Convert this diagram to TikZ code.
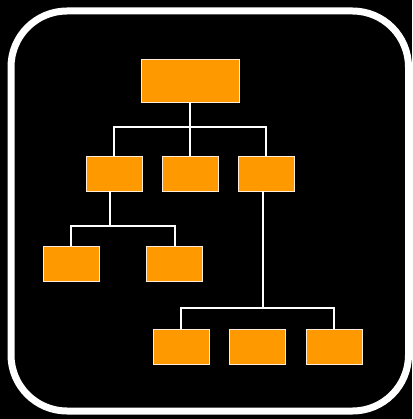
\documentclass[tikz,border=0pt]{standalone}
\usepackage{tikz}
\usetikzlibrary{positioning,calc}

\tikzset{
  box/.style={draw=white!85!orange, line width=0.8pt, fill=orgbox, inner sep=0pt,
              minimum width=56pt, minimum height=35pt},
  wire/.style={draw=white, line width=2pt},
  frame/.style={draw=white, line width=7pt, rounded corners=56pt}
}
\definecolor{orgbox}{HTML}{FF9900}

\begin{document}
\begin{tikzpicture}[x=1pt,y=-1pt]
% Background and frame
\fill[black] (0,0) rectangle (412,419);
\useasboundingbox (0,0) rectangle (412,419);
\draw[frame] (11,11) rectangle (408.5,411);
% Root box
\node[box, minimum width=98pt, minimum height=43pt] (root) at (190,80.5) {};
% Second level
\foreach \x/\n in {114/a,190/b,266/c} {
  \node[box] (\n) at (\x,173.5) {};
}
% Third level under a
\node[box] (a1) at (71,263.5) {};
\node[box] (a2) at (174.5,263.5) {};
% Third level under c
\foreach \x/\n in {181/c1,257/c2,334/c3} {
  \node[box] (\n) at (\x,346.5) {};
}
% Bus junctions
\coordinate (jr) at (190,127);
\coordinate (ja) at (110,226);
\coordinate (jc) at (263,308);
% Connectors
\draw[wire] (root.south) -- (jr);
\foreach \n in {a,b,c} {
  \draw[wire] (jr) -| (\n.north);
}
\draw[wire] (a.south -| ja) -- (ja);
\foreach \n in {a1,a2} {
  \draw[wire] (ja) -| (\n.north);
}
% c2 hangs under the bus with no drop line
\draw[wire] (c.south -| jc) -- (jc);
\foreach \n in {c1,c3} {
  \draw[wire] (jc) -| (\n.north);
}
\end{tikzpicture}
\end{document}
